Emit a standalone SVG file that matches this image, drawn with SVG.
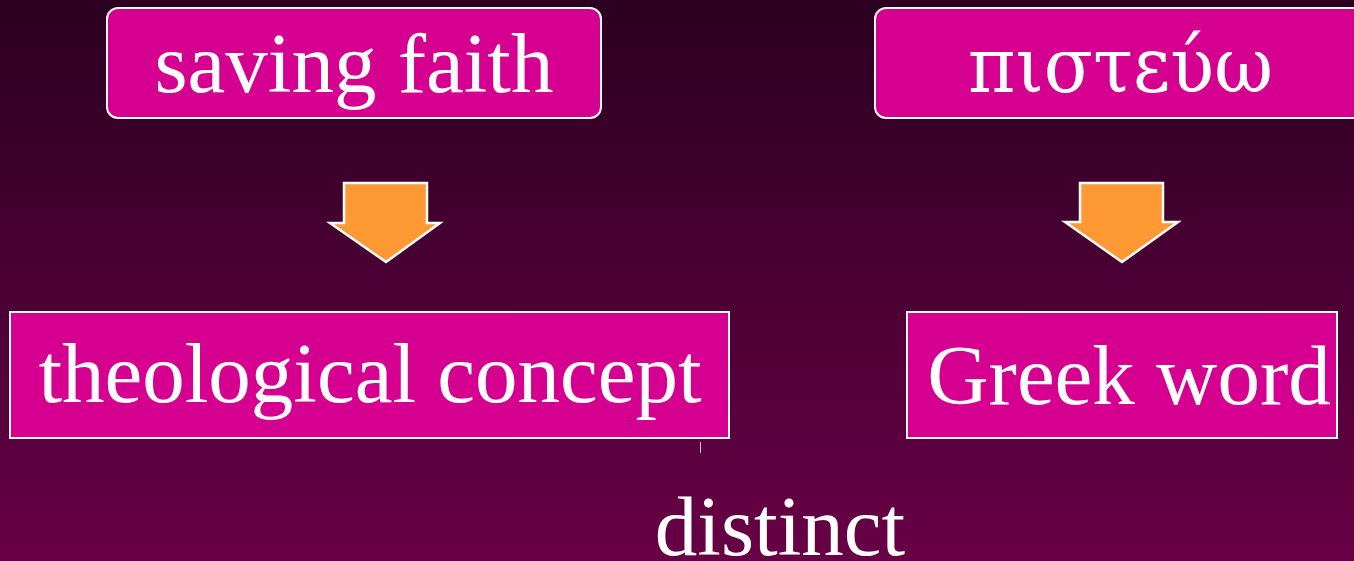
<svg xmlns="http://www.w3.org/2000/svg" width="1354" height="561" viewBox="0 0 1354 561">
<defs>
<linearGradient id="bg" x1="0" y1="0" x2="0" y2="1">
<stop offset="0" stop-color="#2B0020"/>
<stop offset="0.5" stop-color="#4A0034"/>
<stop offset="1" stop-color="#680045"/>
</linearGradient>
<style>
.box{fill:#D60090;stroke:#FFFFFF;stroke-width:2}
.arrow{fill:#FF9933;stroke:#FFFFFF;stroke-width:2.5;stroke-linejoin:miter}
.lbl{fill:#FFFFFF;font-family:"Liberation Serif","DejaVu Serif",serif;font-size:85px}
.greek{font-family:"DejaVu Serif","Liberation Serif",serif;font-size:76px}
</style>
</defs>
<rect x="0" y="0" width="1354" height="561" fill="url(#bg)"/>
<g id="node-saving-faith">
<rect class="box" x="107" y="8" width="494" height="110" rx="11" ry="11"/>
<text class="lbl" x="354" y="92" text-anchor="middle">saving faith</text>
</g>
<g id="node-pisteuo">
<rect class="box" x="875" y="8" width="500" height="110" rx="11" ry="11"/>
<text class="lbl greek" x="968" y="92" textLength="305" lengthAdjust="spacingAndGlyphs">πιστεύω</text>
</g>
<g id="node-theological-concept">
<rect class="box" x="10" y="312" width="719" height="126"/>
<text class="lbl" x="370" y="402" text-anchor="middle">theological concept</text>
</g>
<g id="node-greek-word">
<rect class="box" x="907" y="312" width="430" height="126"/>
<text class="lbl" x="1129" y="404" text-anchor="middle">Greek word</text>
</g>
<g id="connectors">
<polygon class="arrow" points="344,183 427,183 427,223 440,223 386,262 330,223 344,223"/>
<polygon class="arrow" points="1080,183 1163,183 1163,222 1178,222 1122,262 1065,222 1080,222"/>
<line x1="700.5" y1="442" x2="700.5" y2="453" stroke="#D8B8D0" stroke-width="1"/>
</g>
<g id="label-distinct">
<text class="lbl" x="780" y="555" text-anchor="middle">distinct</text>
</g>
</svg>
